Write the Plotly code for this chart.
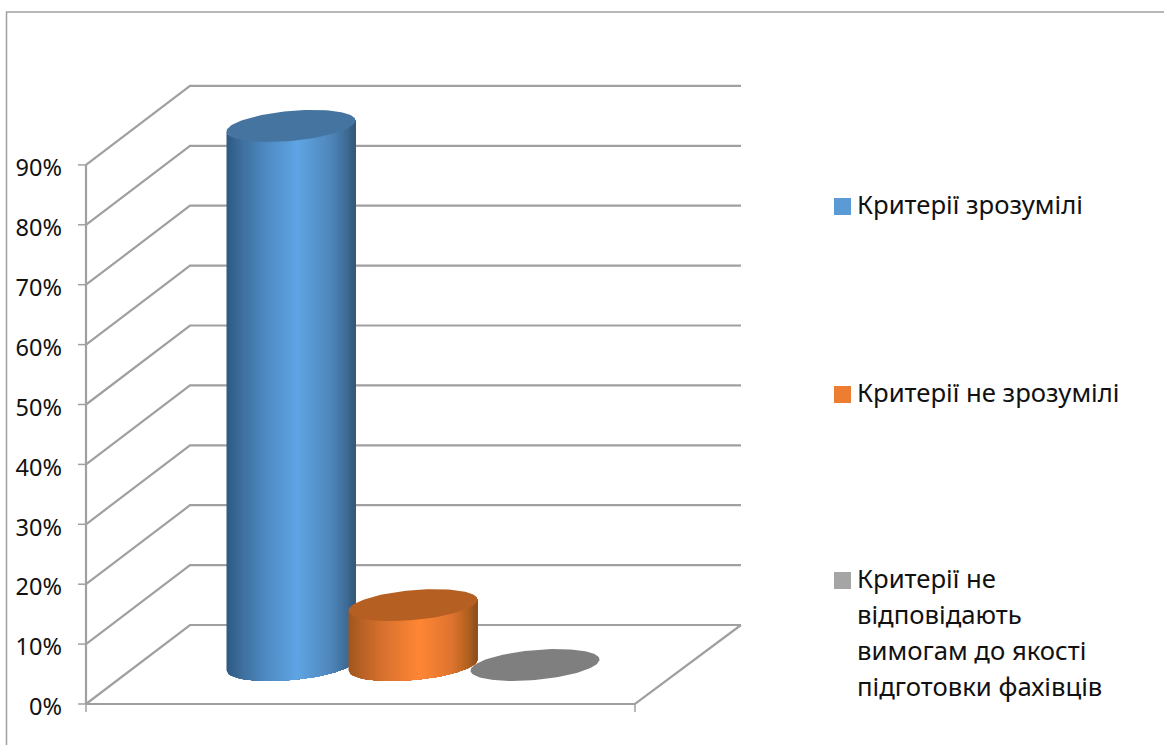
import numpy as np
import plotly.graph_objects as go

series_names = ["Критерії зрозумілі", "Критерії не зрозумілі", "Критерії не відповідають вимогам до якості підготовки фахівців"]
series_values = [90, 10, 0]
legend_lines = [["Критерії зрозумілі"], ["Критерії не зрозумілі"],
                ["Критерії не", "відповідають", "вимогам до якості", "підготовки фахівців"]]
legend_colors = ["#5B9BD5", "#ED7D31", "#A5A5A5"]
tick_values = [0, 10, 20, 30, 40, 50, 60, 70, 80, 90]
tick_labels = ["0%", "10%", "20%", "30%", "40%", "50%", "60%", "70%", "80%", "90%"]

W, H = 1164, 745
FONT = "'Noto Sans', sans-serif"
GRID = "#A0A0A0"
PX = 5.99                 # pixels per percentage point
Y0 = 704                  # pixel row of 0 %
DX, DY = 104, 79 / PX     # depth of the floor
BASE = 39 / PX            # cylinders stand this far back on the floor
A, B, K = 64.5, 15 / PX, 5.5 / PX
centers = [291, 413, 535]

side_stops = [
    [(0, "#2F5A84"), (.12, "#3F6F9E"), (.3, "#4E8AC2"), (.55, "#5FA5E4"), (.8, "#5088BC"), (.93, "#3F6C96"), (1, "#335674")],
    [(0, "#A0561F"), (.12, "#BC6428"), (.3, "#DD7530"), (.55, "#FF8635"), (.8, "#DF7530"), (.93, "#B0601F"), (1, "#8A4C1C")],
]
top_colors = ["#44749F", "#B65F22"]
flat_color = "#7F7F7F"


def hex_rgb(c):
    return np.array([int(c[i:i + 2], 16) for i in (1, 3, 5)], float)


def mix(stops, f):
    for (f0, c0), (f1, c1) in zip(stops, stops[1:]):
        if f <= f1:
            u = (f - f0) / (f1 - f0)
            r = hex_rgb(c0) * (1 - u) + hex_rgb(c1) * u
            return "rgb(%d,%d,%d)" % tuple(r)
    return stops[-1][1]


fig = go.Figure()


def line(xs, ys, width=2.2, color=GRID):
    fig.add_trace(go.Scatter(x=xs, y=ys, mode="lines", line=dict(color=color, width=width),
                             showlegend=False, hoverinfo="skip"))


# frame of the chart
line([6.5, 6.5, W], [-7, (Y0 - 12) / PX, (Y0 - 12) / PX], 1.5)

# walls and floor, drawn from the axis values
top_val = tick_values[-1]
for v in tick_values:
    line([86, 86 + DX, 741], [v, v + DY, v + DY])
line([86, 86], [0, top_val])
line([86, 635, 635 + DX + 2], [0, 0, DY])
line([635, 635], [0, -8 / PX], 1.5)
line([86, 86], [0, -8 / PX], 1.5)
for v in tick_values:
    line([78, 86], [v, v], 1.5)


def ellipse(cx, cy):
    t = np.linspace(0, 2 * np.pi, 121)
    return cx + A * np.cos(t), cy + K * np.cos(t) + B * np.sin(t)


for i, (cx, val) in enumerate(zip(centers, series_values)):
    base = BASE
    top = val + BASE
    if val > 0:
        n = 70
        edges = np.linspace(0, 1, n + 1)
        for j in range(n):
            # each slice reaches to the right edge so no seams appear between slices
            u = np.linspace(edges[j], 1, max(2, n - j + 1))
            xs = cx - A + 2 * A * u
            c = (xs - cx) / A
            s = np.sqrt(np.clip(1 - c ** 2, 0, 1))
            # lower (front) half of the tilted base ellipse, in axis units
            low = base + K * c - B * s
            upper = top + K * c - B * s
            fig.add_trace(go.Scatter(
                x=np.concatenate([xs, xs[::-1]]), y=np.concatenate([upper, low[::-1]]),
                mode="lines", fill="toself", fillcolor=mix(side_stops[i], (edges[j] + edges[j + 1]) / 2),
                line=dict(width=0), showlegend=False, hoverinfo="skip"))
        ex, ey = ellipse(cx, top)
        fig.add_trace(go.Scatter(x=ex, y=ey, mode="lines", fill="toself", fillcolor=top_colors[i],
                                 line=dict(width=0), showlegend=False, hoverinfo="skip"))
    else:
        ex, ey = ellipse(cx, top)
        fig.add_trace(go.Scatter(x=ex, y=ey, mode="lines", fill="toself", fillcolor=flat_color,
                                 line=dict(width=0), showlegend=False, hoverinfo="skip"))

# legend
rows = [204.5, 392.5, 578.5]
line_step = 36
annotations = []
for name, lines_, col, r in zip(series_names, legend_lines, legend_colors, [206.5, 394.5, 580.5]):
    fig.add_trace(go.Scatter(x=[842.5], y=[(Y0 - r) / PX], mode="markers", name=name,
                             marker=dict(symbol="square", size=17, color=col, line=dict(width=0)),
                             showlegend=False, hoverinfo="skip"))
for lines_, r in zip(legend_lines, rows):
    for k, txt in enumerate(lines_):
        annotations.append(dict(x=855, y=(Y0 - (r + k * line_step)) / PX, xref="x", yref="y", text=txt,
                                showarrow=False, xanchor="left", yanchor="middle",
                                font=dict(family=FONT, size=25.7, color="#111111")))

fig.update_layout(
    width=W, height=H, margin=dict(l=0, r=0, t=0, b=0), autosize=False,
    paper_bgcolor="white", plot_bgcolor="white", showlegend=False, annotations=annotations,
    xaxis=dict(range=[0, W], visible=False, domain=[0, 1], fixedrange=True),
    yaxis=dict(range=[(Y0 - H) / PX, Y0 / PX], anchor="free", position=78 / W, domain=[0, 1],
               tickmode="array", tickvals=tick_values, ticktext=tick_labels, ticks="",
               showgrid=False, zeroline=False, showline=False, side="left", ticklabelstandoff=16,
               ticklabelshift=3,
               tickfont=dict(family=FONT, size=23.5, color="#111111"), fixedrange=True),
)
fig.write_html("out.html", config=dict(displayModeBar=False),
               post_script="document.body.style.margin='0';document.documentElement.style.overflow='hidden';")
